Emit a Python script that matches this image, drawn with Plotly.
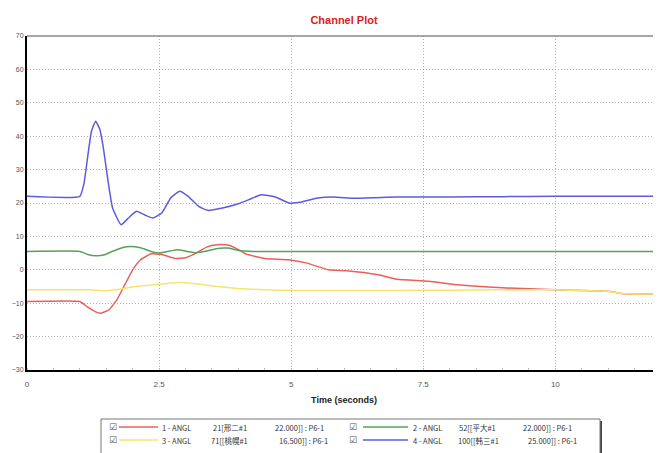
import plotly.graph_objects as go

# ---- data ----
t_red = [0, 1.0, 1.15, 1.3, 1.4, 1.55, 1.7, 1.85, 2.0, 2.15, 2.35, 2.55, 2.8, 3.0, 3.2, 3.4, 3.6, 3.8, 3.95, 4.15, 4.5, 4.95, 5.3, 5.7, 6.05, 6.65, 7.0, 7.6, 8.15, 9.0, 9.5, 10.0, 10.5, 11.05, 11.25, 12.0]
v_red = [-9.5, -9.5, -11.2, -12.6, -13.0, -12.0, -9.0, -4.5, 0.0, 3.0, 4.8, 4.6, 3.4, 3.6, 5.0, 6.8, 7.5, 7.4, 6.5, 4.7, 3.4, 3.0, 2.0, 0.0, -0.3, -1.5, -2.8, -3.4, -4.5, -5.4, -5.7, -6.0, -6.2, -6.5, -7.1, -7.3]

t_green = [0, 1.0, 1.15, 1.3, 1.45, 1.6, 1.8, 1.95, 2.15, 2.35, 2.5, 2.7, 2.85, 3.0, 3.2, 3.4, 3.6, 3.8, 4.0, 4.3, 5.0, 12.0]
v_green = [5.5, 5.5, 4.6, 4.2, 4.4, 5.4, 6.6, 7.0, 6.6, 5.5, 5.0, 5.6, 6.0, 5.6, 5.1, 5.6, 6.4, 6.5, 5.8, 5.5, 5.5, 5.5]

t_yellow = [0, 1.2, 1.45, 1.75, 2.05, 2.4, 2.7, 2.9, 3.2, 3.6, 4.0, 4.5, 5.0, 6.0, 7.0, 8.0, 9.0, 10.0, 10.5, 11.05, 11.25, 12.0]
v_yellow = [-6.0, -6.0, -6.3, -5.8, -5.0, -4.5, -4.0, -3.8, -4.2, -5.0, -5.6, -6.0, -6.2, -6.2, -6.2, -6.1, -6.0, -6.0, -6.2, -6.5, -7.1, -7.3]

t_blue = [0, 1.0, 1.08, 1.15, 1.22, 1.3, 1.38, 1.45, 1.53, 1.62, 1.78, 1.92, 2.07, 2.22, 2.38, 2.55, 2.72, 2.89, 3.05, 3.25, 3.42, 3.7, 4.0, 4.2, 4.43, 4.7, 4.96, 5.2, 5.5, 5.8, 6.2, 6.6, 7.0, 8.0, 9.0, 10.0, 11.0, 12.0]
v_blue = [22.0, 22.0, 26.0, 34.0, 41.5, 44.5, 42.0, 36.0, 27.0, 18.5, 13.5, 15.5, 17.5, 16.5, 15.5, 17.0, 21.5, 23.5, 22.0, 19.0, 17.8, 18.5, 19.8, 21.0, 22.5, 21.8, 20.0, 20.3, 21.5, 21.8, 21.4, 21.6, 21.8, 21.8, 21.9, 22.0, 22.0, 22.0]

series_ids = ["1 - ANGL", "2 - ANGL", "3 - ANGL", "4 - ANGL"]
series_names = ["21[邢二#1", "52[[平大#1", "71[[桃幌#1", "100[[韩三#1"]
series_values = ["22.000]] : P6-1", "22.000]] : P6-1", "16.500]] : P6-1", "25.000]] : P6-1"]
series_colors = ["#e8605c", "#5aa05a", "#f5e66a", "#5c5cdc"]

x_tickvals = [0, 2.5, 5, 7.5, 10]
x_ticktext = ["0", "2.5", "5", "7.5", "10"]
y_tickvals = [70, 60, 50, 40, 30, 20, 10, 0, -10, -20, -30]

FONT = "Noto Sans CJK SC, DejaVu Sans, sans-serif"
SANS = "Liberation Sans, Arial, sans-serif"

fig = go.Figure()
for t, v, name, col in zip(
    [t_red, t_green, t_yellow, t_blue],
    [v_red, v_green, v_yellow, v_blue],
    series_ids, series_colors,
):
    fig.add_trace(go.Scatter(
        x=t, y=v, mode="lines", name=name, showlegend=False,
        line=dict(color=col, width=1.5, shape="spline", smoothing=0.4),
    ))

W, H = 661, 453
OFF = 8  # page body margin offset
L, R, T, B = 27 - OFF, OFF, 36 - OFF, 83 + OFF

fig.update_layout(
    width=W, height=H,
    margin=dict(l=L, r=R, t=T, b=B, autoexpand=False),
    paper_bgcolor="white", plot_bgcolor="white",
    font=dict(family=SANS, size=8, color="#444"),
    title=dict(text="<b>Channel Plot</b>", x=0.5, xref="paper", y=1 - (20 - OFF) / H, yref="container",
               yanchor="middle",
               font=dict(size=11, color="#e02020", family=SANS)),
    showlegend=False,
)

GRID = dict(showgrid=True, gridcolor="#b4b4b4", griddash="1px,2px", gridwidth=1)

fig.update_xaxes(
    range=[0, 12], tickvals=x_tickvals, ticktext=x_ticktext, automargin=False,
    zeroline=False, showline=True, linecolor="black", linewidth=2,
    ticks="", tickfont=dict(size=8, color="#555"), ticklabelstandoff=5,
    title=dict(text="<b>Time (seconds)</b>", font=dict(size=9, color="#222", family=SANS), standoff=9),
    minor=dict(dtick=0.5, ticks="inside", ticklen=2, tickcolor="#bbb", showgrid=False),
    **GRID,
)
fig.update_yaxes(
    range=[-30, 70], tickvals=y_tickvals, automargin=False,
    zeroline=False, showline=True, linecolor="black", linewidth=2,
    ticks="", tickfont=dict(size=7, color="#555"),
    **GRID,
)

# top border of the plot area
fig.add_shape(type="line", xref="paper", yref="paper", x0=0, x1=1, y0=1, y1=1,
              line=dict(color="#888", width=1.5))


def px_x(sx):
    return (sx - OFF - L) / (W - L - R)


def px_y(sy):
    return (H - B - (sy - OFF)) / (H - T - B)


# legend frame with shadow
fig.add_shape(type="rect", xref="paper", yref="paper",
              x0=px_x(103), x1=px_x(602), y0=px_y(462), y1=px_y(421),
              line=dict(width=0), fillcolor="#444", layer="below")
fig.add_shape(type="rect", xref="paper", yref="paper",
              x0=px_x(101), x1=px_x(600), y0=px_y(460), y1=px_y(419),
              line=dict(color="#777", width=1), fillcolor="white", layer="below")

# legend entries (2 x 2): checkbox x, line x0, line x1, id x, name x, value x, row y
entries = [
    (107, 119, 158, 160, 211, 273, 427),
    (353, 363, 408, 411, 457, 521, 427),
    (107, 119, 158, 160, 209, 277, 440),
    (353, 363, 408, 411, 456, 526, 440),
]
for (cb, l0, l1, xid, xnm, xval, cy), sid, nm, val, col in zip(
        entries, series_ids, series_names, series_values, series_colors):
    fig.add_annotation(text="☑", xref="paper", yref="paper", x=px_x(cb), y=px_y(cy),
                       yanchor="middle", showarrow=False,
                       font=dict(size=9, color="#555", family="DejaVu Sans"))
    fig.add_shape(type="line", xref="paper", yref="paper",
                  x0=px_x(l0), x1=px_x(l1), y0=px_y(cy), y1=px_y(cy),
                  line=dict(color=col, width=1.3))
    for xx, txt in [(xid, sid), (xnm, nm), (xval, val)]:
        fig.add_annotation(text=txt, xref="paper", yref="paper", x=px_x(xx), y=px_y(cy),
                           xanchor="left", yanchor="middle", showarrow=False,
                           font=dict(size=7.5, color="#333", family=FONT))

fig.write_html("out.html")
